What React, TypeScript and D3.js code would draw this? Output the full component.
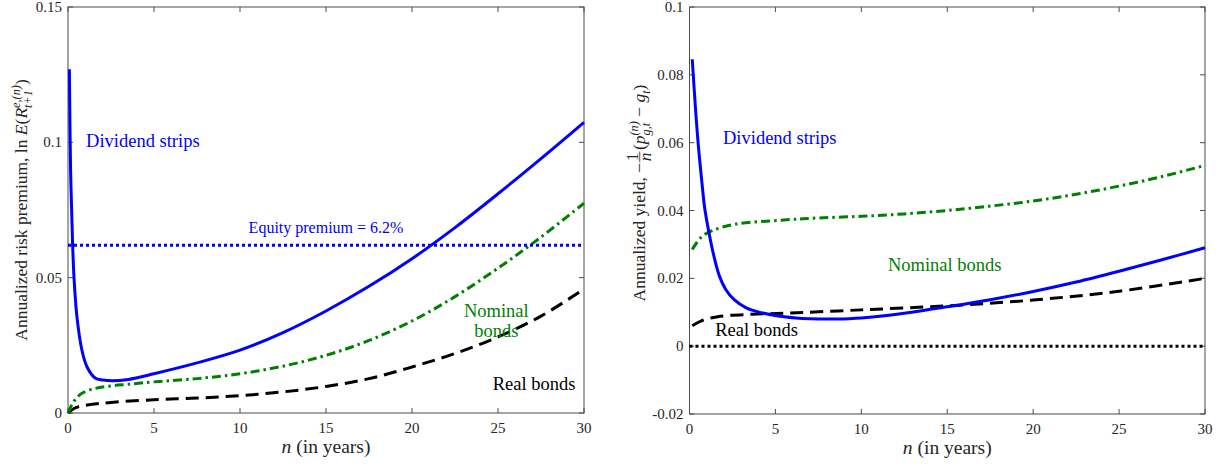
import React, { useEffect, useRef } from "react";
import * as d3 from "d3";

const W = 1221;
const H = 466;
const FONT = "Liberation Serif, Times New Roman, serif";

// ---- left panel: annualized risk premium ----
const divN = [0.08, 0.15, 0.27, 0.35, 0.52, 0.81, 1.1, 1.6, 2.0, 2.6, 3.5, 5, 7.5, 10, 12.5, 15, 17.5, 20, 22.5, 25, 27.5, 30];
const divPremium = [0.127, 0.09, 0.062, 0.05, 0.0355, 0.0232, 0.0171, 0.0128, 0.0122, 0.0119, 0.0124, 0.0145, 0.0185, 0.0232, 0.0297, 0.0377, 0.0468, 0.057, 0.0685, 0.081, 0.094, 0.1074];

const nomN = [0, 0.2, 0.43, 0.81, 1.6, 2.5, 3.5, 5, 7.5, 10, 12.5, 15, 17.5, 20, 22.5, 25, 27.5, 30];
const nomPremium = [0, 0.0028, 0.005, 0.0073, 0.0091, 0.01, 0.0106, 0.0115, 0.0127, 0.0145, 0.0173, 0.0213, 0.0268, 0.034, 0.043, 0.0535, 0.065, 0.0775];

const realN = [0, 0.3, 0.7, 1.3, 2.5, 5, 7.5, 10, 12.5, 15, 17.5, 20, 22.5, 25, 27.5, 30];
const realPremium = [0, 0.0015, 0.0025, 0.0031, 0.0039, 0.0049, 0.0055, 0.0064, 0.0078, 0.0098, 0.0127, 0.017, 0.022, 0.0281, 0.0358, 0.0458];

const equityPremium = 0.062;

// ---- right panel: annualized yield ----
const divYieldN = [0.16, 0.35, 0.5, 0.7, 0.89, 1.14, 1.4, 1.72, 2.1, 2.6, 3.3, 4.16, 5.5, 7, 8.5, 10, 12.5, 15, 17.5, 20, 22.5, 25, 27.5, 30];
const divYield = [0.0846, 0.07, 0.06, 0.0494, 0.0405, 0.0333, 0.027, 0.021, 0.0168, 0.0137, 0.0113, 0.0099, 0.0087, 0.0081, 0.008, 0.0083, 0.0097, 0.0116, 0.0137, 0.0161, 0.0189, 0.0221, 0.0255, 0.029];

const nomYieldN = [0.16, 0.66, 1.25, 2.6, 5.5, 7.5, 10, 12.5, 15, 17.5, 20, 22.5, 25, 27.5, 30];
const nomYield = [0.0285, 0.032, 0.0339, 0.0359, 0.0372, 0.0378, 0.0383, 0.039, 0.04, 0.0413, 0.0428, 0.0448, 0.0472, 0.05, 0.0533];

const realYieldN = [0.16, 0.66, 1.63, 3.6, 5.5, 10, 15, 20, 25, 30];
const realYield = [0.006, 0.0074, 0.0087, 0.0094, 0.0097, 0.0107, 0.0119, 0.0136, 0.0162, 0.02];

const xTicks = [0, 5, 10, 15, 20, 25, 30];
const leftYTicks = [0, 0.05, 0.1, 0.15];
const leftYLabels = ["0", "0.05", "0.1", "0.15"];
const rightYTicks = [-0.02, 0, 0.02, 0.04, 0.06, 0.08, 0.1];
const rightYLabels = ["-0.02", "0", "0.02", "0.04", "0.06", "0.08", "0.1"];

const BLUE = "#0000ff";
const GREEN = "#008000";
const BLACK = "#000000";
const AXIS = "#4d4d4d";
const TEXT = "#262626";

const zip = (xs, ys) => xs.map((x, i) => [x, ys[i]]);

// lay out a label made of pieces (sub/superscripts, fractions), measuring each piece
function mathLabel(parent, pieces, size) {
  const g = parent.append("g").attr("font-family", FONT);
  let x = 0;
  let prevX = 0;
  pieces.forEach((p) => {
    const fs = p.small ? size * 0.7 : size;
    if (p.frac) {
      const a = g.append("text").attr("font-size", fs).attr("y", -size * 0.4).text(p.frac[0]);
      const b = g.append("text").attr("font-size", fs).attr("font-style", "italic").attr("y", size * 0.32).text(p.frac[1]);
      const wa = a.node().getComputedTextLength();
      const wb = b.node().getComputedTextLength();
      const w = Math.max(wa, wb) + 3;
      a.attr("x", x + (w - wa) / 2);
      b.attr("x", x + (w - wb) / 2);
      g.append("line").attr("x1", x + 0.5).attr("x2", x + w - 0.5)
        .attr("y1", -size * 0.3).attr("y2", -size * 0.3)
        .attr("stroke", TEXT).attr("stroke-width", 0.8);
      prevX = x;
      x += w + 1;
      return;
    }
    const start = p.stack ? prevX : x;
    const t = g.append("text")
      .attr("x", start)
      .attr("y", p.dy || 0)
      .attr("font-size", fs)
      .attr("font-style", p.it ? "italic" : "normal")
      .style("white-space", "pre")
      .text(p.t);
    const w = t.node().getComputedTextLength();
    if (p.stack) {
      x = Math.max(x, start + w);
    } else {
      prevX = start;
      x = start + w;
    }
  });
  return { g, width: x };
}

function drawPanel(svg, cfg) {
  const { x0, x1, yDom, yR, ticks, tickLabels } = cfg;
  const x = d3.scaleLinear().domain([0, 30]).range([x0, x1]);
  const y = d3.scaleLinear().domain(yDom).range(yR);
  const g = svg.append("g");

  // box
  g.append("rect")
    .attr("x", x0).attr("y", yR[1])
    .attr("width", x1 - x0).attr("height", yR[0] - yR[1])
    .attr("fill", "none").attr("stroke", AXIS).attr("stroke-width", 1);

  // ticks (inward on all four sides)
  const tl = 5;
  xTicks.forEach((t) => {
    g.append("line").attr("x1", x(t)).attr("x2", x(t)).attr("y1", yR[0]).attr("y2", yR[0] - tl).attr("stroke", AXIS);
    g.append("line").attr("x1", x(t)).attr("x2", x(t)).attr("y1", yR[1]).attr("y2", yR[1] + tl).attr("stroke", AXIS);
    g.append("text").attr("x", x(t)).attr("y", yR[0] + 20)
      .attr("text-anchor", "middle").attr("font-family", FONT).attr("font-size", 15).attr("fill", TEXT)
      .text(t);
  });
  ticks.forEach((t, i) => {
    g.append("line").attr("x1", x0).attr("x2", x0 + tl).attr("y1", y(t)).attr("y2", y(t)).attr("stroke", AXIS);
    g.append("line").attr("x1", x1).attr("x2", x1 - tl).attr("y1", y(t)).attr("y2", y(t)).attr("stroke", AXIS);
    g.append("text").attr("x", x0 - 6).attr("y", y(t) + 5)
      .attr("text-anchor", "end").attr("font-family", FONT).attr("font-size", 15).attr("fill", TEXT)
      .text(tickLabels[i]);
  });

  // x label
  const xl = mathLabel(g, [{ t: "n", it: true }, { t: " (in years)" }], 19.5);
  xl.g.attr("fill", TEXT).attr("transform", `translate(${(x0 + x1) / 2 - xl.width / 2},${yR[0] + 40})`);

  // y label
  const yl = mathLabel(g, cfg.yLabel, 17.5);
  yl.g.attr("fill", TEXT).attr("transform", `translate(${cfg.yLabelX},${cfg.yLabelMid}) rotate(-90) translate(${-yl.width / 2},0)`);

  const line = d3.line().x((d) => x(d[0])).y((d) => y(d[1])).curve(d3.curveCatmullRom.alpha(0.5));
  cfg.series.forEach((s) => {
    g.append("path").attr("d", line(s.data)).attr("fill", "none")
      .attr("stroke", s.color).attr("stroke-width", s.width)
      .attr("stroke-dasharray", s.dash || null)
      .attr("stroke-linejoin", "round");
  });

  cfg.notes.forEach((n) => {
    g.append("text").attr("x", x(n.n)).attr("y", y(n.v))
      .attr("text-anchor", n.anchor || "start")
      .attr("font-family", FONT).attr("font-size", n.size || 18.5).attr("fill", n.color)
      .text(n.t);
  });
}

export default function App() {
  const ref = useRef(null);

  useEffect(() => {
    const svg = d3.select(ref.current);
    svg.selectAll("*").remove();

    drawPanel(svg, {
      x0: 68, x1: 584, yDom: [0, 0.15], yR: [413, 7],
      ticks: leftYTicks, tickLabels: leftYLabels,
      yLabelX: 27, yLabelMid: 210,
      yLabel: [
        { t: "Annualized risk premium, ln " },
        { t: "E", it: true },
        { t: "(" },
        { t: "R", it: true },
        { t: "e,(n)", it: true, small: true, dy: -7 },
        { t: "t+1", it: true, small: true, dy: 4.5, stack: true },
        { t: ")" },
      ],
      series: [
        { data: zip(realN, realPremium), color: BLACK, width: 3, dash: "13,7" },
        { data: zip(nomN, nomPremium), color: GREEN, width: 3, dash: "9,4,2.5,4" },
        { data: zip([0, 30], [equityPremium, equityPremium]), color: BLUE, width: 3, dash: "3,3" },
        { data: zip(divN, divPremium), color: BLUE, width: 3 },
      ],
      notes: [
        { t: "Dividend strips", n: 1.05, v: 0.0983, color: BLUE },
        { t: "Equity premium = 6.2%", n: 15.0, v: 0.0665, color: BLUE, anchor: "middle", size: 16 },
        { t: "Nominal", n: 24.9, v: 0.0356, color: GREEN, anchor: "middle" },
        { t: "bonds", n: 24.9, v: 0.0282, color: GREEN, anchor: "middle" },
        { t: "Real bonds", n: 29.5, v: 0.0085, color: BLACK, anchor: "end" },
      ],
    });

    drawPanel(svg, {
      x0: 689.5, x1: 1205, yDom: [-0.02, 0.1], yR: [414, 7],
      ticks: rightYTicks, tickLabels: rightYLabels,
      yLabelX: 645, yLabelMid: 193,
      yLabel: [
        { t: "Annualized yield, \u2212" },
        { frac: ["1", "n"] },
        { t: "(" },
        { t: "p", it: true },
        { t: "(n)", it: true, small: true, dy: -7 },
        { t: "g,t", it: true, small: true, dy: 4.5, stack: true },
        { t: " \u2212 " },
        { t: "g", it: true },
        { t: "t", it: true, small: true, dy: 4.5 },
        { t: ")" },
      ],
      series: [
        { data: zip([0, 30], [0, 0]), color: BLACK, width: 3, dash: "3,3" },
        { data: zip(realYieldN, realYield), color: BLACK, width: 3, dash: "13,7" },
        { data: zip(nomYieldN, nomYield), color: GREEN, width: 3, dash: "9,4,2.5,4" },
        { data: zip(divYieldN, divYield), color: BLUE, width: 3 },
      ],
      notes: [
        { t: "Dividend strips", n: 1.95, v: 0.0597, color: BLUE },
        { t: "Nominal bonds", n: 11.55, v: 0.0222, color: GREEN },
        { t: "Real bonds", n: 1.5, v: 0.003, color: BLACK },
      ],
    });
  }, []);

  return (
    <svg
      ref={ref}
      width={W}
      height={H}
      viewBox={`0 0 ${W} ${H}`}
      style={{ position: "absolute", left: 0, top: 0, background: "#fff" }}
    />
  );
}
